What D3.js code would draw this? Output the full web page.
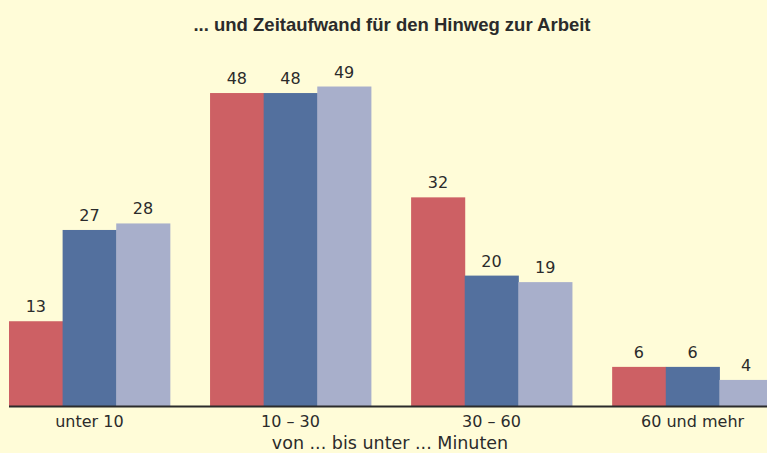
<!DOCTYPE html>
<html><head><meta charset="utf-8">
<script src="https://cdn.jsdelivr.net/npm/d3@7"></script>
<style>html,body{margin:0;padding:0;background:#fffcd8;overflow:hidden}svg{display:block}</style>
</head><body>
<svg id="c" width="767" height="453"></svg>
<script>
const categories = ["unter 10", "10 – 30", "30 – 60", "60 und mehr"];
const seriesNames = ["Reihe 1", "Reihe 2", "Reihe 3"];
const series1 = [13, 48, 32, 6];
const series2 = [27, 48, 20, 6];
const series3 = [28, 49, 19, 4];
const colors = ["#cd6064", "#53709e", "#a8afcb"];
const title = "... und Zeitaufwand für den Hinweg zur Arbeit";
const axisTitle = "von ... bis unter ... Minuten";

const allSeries = [series1, series2, series3];
const svg = d3.select("#c");
const W = 767, H = 453;
svg.append("rect").attr("width", W).attr("height", H).attr("fill", "#fffcd8");

const font = "'DejaVu Sans', sans-serif";
const tfont = "'Liberation Sans', Arial, sans-serif";
const ink = "#2b2b2b";
const x0 = d3.scaleBand().domain(categories).range([9, 773]).paddingInner(0.2).paddingOuter(0);
const x1 = d3.scaleBand().domain(seriesNames).range([0, x0.bandwidth()]).padding(0);
const y = d3.scaleLinear().domain([0, 50]).range([406, 80]);

const g = svg.append("g");
categories.forEach((cat, ci) => {
  seriesNames.forEach((s, si) => {
    const v = allSeries[si][ci];
    const bx = x0(cat) + x1(s);
    g.append("rect")
      .attr("x", bx).attr("y", y(v))
      .attr("width", x1.bandwidth() + 0.5).attr("height", y(0) - y(v))
      .attr("fill", colors[si]);
    g.append("text")
      .attr("x", bx + x1.bandwidth() / 2).attr("y", y(v) - 9)
      .attr("text-anchor", "middle")
      .attr("font-family", font).attr("font-size", 16)
      .attr("fill", ink).text(v);
  });
});

const axis = d3.axisBottom(x0).tickSize(0).tickPadding(10);
const ag = svg.append("g").attr("transform", `translate(0,${y(0)})`).call(axis);
ag.select(".domain").remove();
ag.selectAll("text").attr("font-family", font).attr("font-size", 16).attr("fill", ink);
svg.append("line").attr("x1", 9).attr("x2", W).attr("y1", y(0) + 0.5).attr("y2", y(0) + 0.5)
  .attr("stroke", ink).attr("stroke-width", 2);

svg.append("text").attr("x", 390).attr("y", 449).attr("text-anchor", "middle")
  .attr("font-family", font).attr("font-size", 17.5).attr("fill", ink).text(axisTitle);

svg.append("text").attr("x", 392).attr("y", 31).attr("text-anchor", "middle")
  .attr("font-family", tfont).attr("font-size", 18.5).attr("font-weight", "bold")
  .attr("fill", ink).text(title);
</script>
</body></html>
